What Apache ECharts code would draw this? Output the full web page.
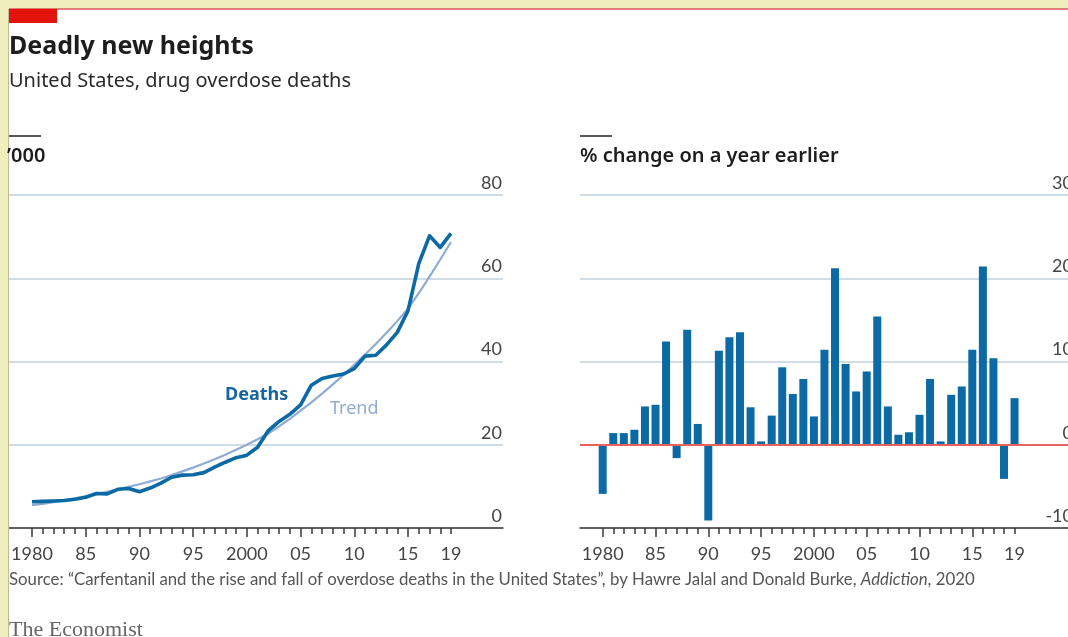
<!DOCTYPE html>
<html>
<head>
<meta charset="utf-8">
<title>Deadly new heights</title>
<script src="https://cdn.jsdelivr.net/npm/echarts@6/dist/echarts.min.js"></script>
<style>
  html, body { margin: 0; padding: 0; background: #f0eebd; overflow: hidden; }
  #chart { width: 1080px; height: 637px; }
</style>
</head>
<body>
<div id="chart"></div>
<script>
// data
const years = [1980, 1981, 1982, 1983, 1984, 1985, 1986, 1987, 1988, 1989,
               1990, 1991, 1992, 1993, 1994, 1995, 1996, 1997, 1998, 1999,
               2000, 2001, 2002, 2003, 2004, 2005, 2006, 2007, 2008, 2009,
               2010, 2011, 2012, 2013, 2014, 2015, 2016, 2017, 2018, 2019];
// overdose deaths, '000
const deaths = [6.3, 6.4, 6.5, 6.6, 6.9, 7.4, 8.3, 8.2, 9.3, 9.5,
                8.7, 9.6, 10.8, 12.2, 12.7, 12.8, 13.3, 14.6, 15.8, 16.9,
                17.5, 19.4, 23.4, 25.6, 27.3, 29.6, 34.3, 35.9, 36.5, 37.0,
                38.3, 41.3, 41.5, 44.0, 47.0, 52.2, 63.5, 70.2, 67.4, 70.8];
const trend = [5.5, 5.8, 6.2, 6.6, 7.1, 7.6, 8.1, 8.7, 9.3, 9.9,
               10.5, 11.2, 11.9, 12.7, 13.6, 14.5, 15.5, 16.5, 17.6, 18.8,
               20.0, 21.3, 22.7, 24.4, 26.2, 28.2, 30.2, 32.3, 34.5, 36.8,
               39.2, 41.7, 44.2, 46.9, 49.7, 52.7, 56.4, 60.4, 64.5, 68.7];
// % change on a year earlier
const pctChange = [-5.9, 1.4, 1.4, 1.8, 4.6, 4.8, 12.4, -1.6, 13.8, 2.5,
                   -9.1, 11.3, 12.9, 13.5, 4.5, 0.4, 3.5, 9.3, 6.1, 7.9,
                   3.4, 11.4, 21.2, 9.7, 6.4, 8.8, 15.4, 4.6, 1.2, 1.5,
                   3.6, 7.9, 0.4, 6.0, 7.0, 11.4, 21.4, 10.4, -4.1, 5.6];

const labelYears = [1980, 1985, 1990, 1995, 2000, 2005, 2010, 2015, 2019];
const majorYears = [1980, 1985, 1990, 1995, 2000, 2005, 2010, 2015];
const deathsTicks = { min: 0, max: 80, interval: 20 };
const pctTicks = { min: -10, max: 30, interval: 10 };

const blue = '#0b69a3';
const trendBlue = '#90abd3';
const gridGrey = '#c3d0db';
const axisDark = '#3a3a3a';
const font = 'Lato';
const headFont = 'Noto Sans';

function fmtYear(v) {
  return (v === 1980 || v === 2000) ? String(v) : String(v).slice(2);
}

// two x axes per panel: short ticks every year, longer ones every 5 years
function yearAxes(grid, min, max) {
  return [{
    type: 'value', gridIndex: grid, min: min, max: max, position: 'bottom',
    axisLine: { show: true, onZero: false, lineStyle: { color: axisDark, width: 1.5 } },
    axisTick: { show: true, customValues: years, length: 6, lineStyle: { color: axisDark, width: 1.5 } },
    axisLabel: { show: true, customValues: labelYears, margin: 17, formatter: fmtYear,
                 fontFamily: font, fontSize: 18, color: '#444' },
    splitLine: { show: false }
  }, {
    type: 'value', gridIndex: grid, min: min, max: max, position: 'bottom',
    axisLine: { show: false, onZero: false },
    axisTick: { show: true, customValues: majorYears, length: 9, lineStyle: { color: axisDark, width: 1.5 } },
    axisLabel: { show: false },
    splitLine: { show: false }
  }];
}

function valueAxis(grid, t) {
  return {
    type: 'value', gridIndex: grid, position: 'right',
    min: t.min, max: t.max, interval: t.interval,
    axisLine: { show: false }, axisTick: { show: false },
    axisLabel: { inside: true, margin: 1, verticalAlign: 'bottom', padding: [0, 0, 3, 0],
                 fontFamily: font, fontSize: 18, color: '#444' },
    splitLine: { lineStyle: { color: gridGrey, width: 1.5 } }
  };
}

const chart = echarts.init(document.getElementById('chart'));

const option = {
  backgroundColor: '#f0eebd',
  animation: false,
  grid: [
    { left: 9, top: 195, width: 494, height: 333 },
    { left: 580, top: 195, width: 494, height: 333 }
  ],
  xAxis: [].concat(yearAxes(0, 1977.86, 2023.84), yearAxes(1, 1977.85, 2024.63)),
  yAxis: [valueAxis(0, deathsTicks), valueAxis(1, pctTicks)],
  graphic: [
    { type: 'rect', z: -100, shape: { x: 9, y: 9, width: 1080, height: 640 }, style: { fill: '#fff' } },
    { type: 'line', z: 100, shape: { x1: 8.5, y1: 9, x2: 8.5, y2: 637 }, style: { stroke: '#bdbaa0', lineWidth: 1 } },
    { type: 'line', z: 100, shape: { x1: 9, y1: 9, x2: 1080, y2: 9 }, style: { stroke: '#d9575a', lineWidth: 1.5 } },
    { type: 'rect', z: 100, shape: { x: 9, y: 9, width: 48, height: 14 }, style: { fill: '#e3120b' } },
    { type: 'text', z: 100, style: { x: 9, y: 47, text: 'Deadly new heights', verticalAlign: 'middle',
        fontFamily: headFont, fontSize: 25, fontWeight: 'bold', fill: '#1d1d1d' } },
    { type: 'text', z: 100, style: { x: 9, y: 81, text: 'United States, drug overdose deaths', verticalAlign: 'middle',
        fontFamily: headFont, fontSize: 20, fill: '#2a2a2a' } },
    { type: 'line', z: 100, shape: { x1: 9, y1: 136, x2: 41, y2: 136 }, style: { stroke: '#222', lineWidth: 1.5 } },
    { type: 'line', z: 100, shape: { x1: 580, y1: 136, x2: 612, y2: 136 }, style: { stroke: '#222', lineWidth: 1.5 } },
    { type: 'text', z: 100, style: { x: 7, y: 156, text: '\u2019000', verticalAlign: 'middle',
        fontFamily: headFont, fontSize: 20, fontWeight: 600, fill: '#1d1d1d' } },
    { type: 'text', z: 100, style: { x: 580, y: 156, text: '% change on a year earlier', verticalAlign: 'middle',
        fontFamily: headFont, fontSize: 20, fontWeight: 600, fill: '#1d1d1d' } },
    { type: 'text', z: 100, style: { x: 225, y: 395, text: 'Deaths', verticalAlign: 'middle',
        fontFamily: headFont, fontSize: 18, fontWeight: 'bold', fill: '#17659c' } },
    { type: 'text', z: 100, style: { x: 330, y: 409, text: 'Trend', verticalAlign: 'middle',
        fontFamily: headFont, fontSize: 18, fill: trendBlue } },
    { type: 'text', z: 100, style: {
        x: 9, y: 580, verticalAlign: 'middle',
        text: '{a|Source: \u201cCarfentanil and the rise and fall of overdose deaths in the United States\u201d, by Hawre Jalal and Donald Burke, }{i|Addiction}{a|, 2020}',
        rich: {
          a: { fontFamily: font, fontSize: 16.8, fill: '#555' },
          i: { fontFamily: font, fontSize: 16.8, fontStyle: 'italic', fill: '#555' }
        } } },
    { type: 'text', z: 100, style: { x: 9, y: 630, text: 'The Economist', verticalAlign: 'middle',
        fontFamily: 'Liberation Serif', fontSize: 22, fill: '#666' } }
  ],
  series: [
    {
      name: 'Trend', type: 'line', xAxisIndex: 0, yAxisIndex: 0,
      data: years.map((y, i) => [y, trend[i]]),
      showSymbol: false, silent: true, z: 3,
      lineStyle: { color: trendBlue, width: 2.2 }
    },
    {
      name: 'Deaths', type: 'line', xAxisIndex: 0, yAxisIndex: 0,
      data: years.map((y, i) => [y, deaths[i]]),
      showSymbol: false, silent: true, z: 4,
      lineStyle: { color: blue, width: 3.6, join: 'round' }
    },
    {
      name: '% change', type: 'bar', xAxisIndex: 2, yAxisIndex: 1,
      data: years.map((y, i) => [y, pctChange[i]]),
      barWidth: 8, silent: true,
      itemStyle: { color: blue },
      markLine: {
        silent: true, symbol: 'none', label: { show: false },
        lineStyle: { color: '#e8615c', width: 2, type: 'solid' },
        data: [{ yAxis: 0 }]
      }
    }
  ]
};

chart.setOption(option);
</script>
</body>
</html>
